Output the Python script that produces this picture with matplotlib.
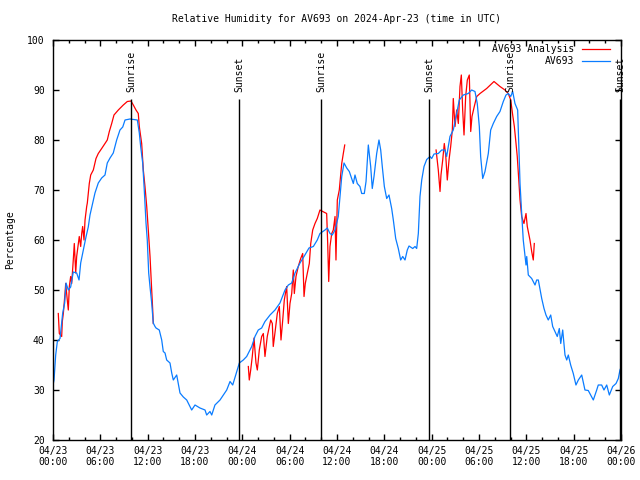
import matplotlib
matplotlib.use("Agg")
import matplotlib.pyplot as plt
from matplotlib.ticker import MultipleLocator

# hours since 2024-04-23 00:00 UTC
blue_hours = [
    0.0, 0.13, 0.34, 0.55, 0.89, 1.23, 1.48, 1.65, 1.94, 2.24,
    2.57, 3.0, 3.3, 3.51, 3.84, 4.18, 4.47, 4.69, 5.03, 5.32,
    5.74, 6.17, 6.59, 6.88, 7.23, 7.64, 8.07, 8.49, 8.84, 9.13,
    9.76, 10.69, 10.94, 11.12, 11.37, 11.57, 11.79, 11.95, 12.13, 12.3,
    12.51, 12.71, 12.93, 13.06, 13.47, 13.56, 13.78, 13.98, 14.2, 14.41,
    14.83, 15.05, 15.25, 15.68, 16.1, 16.52, 16.95, 17.58, 18.0, 18.63,
    19.27, 19.48, 19.9, 20.12, 20.53, 21.17, 21.59, 22.02, 22.44, 22.78,
    23.29, 23.62, 24.12, 24.55, 25.19, 25.6, 26.02, 26.45, 26.87, 27.51,
    28.14, 28.77, 29.41, 29.83, 30.26, 30.68, 31.31, 31.82, 32.45, 33.0,
    33.5, 33.84, 34.48, 34.77, 35.11, 35.4, 35.75, 36.16, 36.6, 36.89,
    37.23, 37.56, 37.86, 38.07, 38.28, 38.57, 38.91, 39.13, 39.46, 39.68,
    39.97, 40.09, 40.27, 40.47, 40.69, 41.03, 41.32, 41.54, 41.74, 42.0,
    42.3, 42.59, 42.93, 43.14, 43.44, 43.77, 44.07, 44.33, 44.62, 44.91,
    45.13, 45.6, 45.89, 46.1, 46.31, 46.52, 46.74, 47.03, 47.37, 47.79,
    48.0, 48.3, 48.84, 49.27, 49.69, 49.9, 50.32, 50.74, 51.17, 51.5,
    52.01, 52.64, 53.07, 53.49, 53.78, 54.04, 54.21, 54.47, 54.76, 55.18,
    55.48, 55.81, 56.24, 56.66, 57.08, 57.42, 57.71, 58.02, 58.27, 58.56,
    58.9, 59.07, 59.2, 59.41, 59.61, 59.7, 59.96, 60.05, 60.25, 60.68,
    61.1, 61.31, 61.52, 61.95, 62.24, 62.49, 62.78, 63.09, 63.34, 63.63,
    63.92, 64.18, 64.36, 64.61, 64.9, 65.12, 65.32, 65.62, 65.95, 66.29,
    66.59, 67.02, 67.43, 67.85, 68.16, 68.49, 68.92, 69.12, 69.55, 69.84,
    70.19, 70.52, 70.95, 71.37, 71.66, 71.87, 72.0]
blue_rh = [
    31, 32, 37, 39.7, 40.3, 45.4, 47.4, 51.4, 50, 50.6,
    53.6, 53.4, 52, 55.4, 58, 60.6, 62.6, 65, 67.4, 69.4,
    71.4, 72.4, 73, 75.4, 76.4, 77.4, 80, 82, 82.6, 84,
    84.2, 84, 81.4, 78.6, 75.4, 70, 63.4, 60, 53.4, 50.6,
    47.4, 43.4, 42.7, 42.4, 42, 41.4, 40, 37.7, 37.4, 36,
    35.4, 33.4, 32, 33, 29.4, 28.6, 28, 26, 27, 26.4,
    26, 25, 25.7, 25, 27, 28, 29, 30, 31.7, 31,
    33.7, 35.4, 36, 36.7, 38.7, 40.7, 42, 42.4, 43.7, 45,
    46, 47.4, 50, 51, 51.4, 53.4, 55.4, 56.7, 58.4, 58.7,
    60, 61.3, 62, 62.4, 61.3, 61, 62, 64.7, 72.7, 75.4,
    74.4, 73.7, 72.3, 71.3, 73, 71.3, 70.7, 69.3, 69.3, 71.7,
    79, 77.3, 74.7, 70.3, 72.7, 77.3, 80, 78, 74.7, 70.7,
    68.3, 69, 66.3, 64, 60.3, 58.3, 56, 56.7, 56, 58,
    58.8, 58.3, 58.7, 58.3, 61.3, 68.7, 72, 74.7, 76.1, 76.7,
    76.3, 77.2, 77.3, 78, 78, 76.7, 80.7, 82, 85.3, 88,
    89, 89.3, 90, 89.7, 87.3, 82.7, 76.7, 72.3, 73.7, 77.3,
    82, 83.3, 84.7, 85.7, 87.7, 89, 89.3, 88.7, 89.7, 87.3,
    86, 77.3, 71.3, 65.3, 60, 58.7, 55, 56.7, 53, 52.3,
    51, 52, 52, 48.3, 46.3, 45, 44, 45, 42.7, 41.7,
    40.7, 42.3, 39.3, 42, 37, 36, 37, 35, 33.3, 31,
    32, 33, 30, 29.9, 29, 28, 30, 31, 31, 30,
    31, 29, 30.7, 31.3, 32.3, 34, 34.5]

# analysis series, three separate runs
red1_hours = [0.67, 0.8, 1.1, 1.18, 1.31, 1.52, 1.61, 1.81, 1.94, 2.07,
              2.24, 2.37, 2.57, 2.7, 2.88, 3.0, 3.33, 3.51, 3.64, 3.76,
              3.93, 4.06, 4.27, 4.35, 4.6, 4.78, 5.11, 5.45, 5.74, 6.17,
              6.59, 6.88, 7.14, 7.44, 7.73, 8.28, 8.91, 9.42, 9.89, 10.18,
              10.52, 10.81, 10.94, 11.24, 11.45, 11.66, 11.88, 12.08, 12.3, 12.51,
              12.64, 12.71]
red1_rh = [45.3, 41.3, 40.7, 43.7, 45.3, 49.3, 51.3, 48, 46, 50.7,
           52.7, 51.3, 56, 59.3, 53.4, 56.7, 60.7, 58.7, 61.3, 62.7,
           60, 64, 66.7, 67.4, 71.3, 73, 74, 76.3, 77.3, 78.3,
           79.3, 80, 81.7, 83.3, 85, 86, 87, 87.7, 87.8, 87,
           86, 85.3, 82.7, 79.3, 74, 70.7, 66.7, 62, 56.7, 50,
           46, 43.3]
red2_hours = [24.76, 24.88, 25.06, 25.26, 25.48, 25.73, 25.9, 26.15, 26.45, 26.66,
              26.87, 27.16, 27.42, 27.6, 27.8, 27.92, 28.18, 28.43, 28.69, 28.9,
              29.12, 29.32, 29.54, 29.62, 29.83, 30.04, 30.26, 30.46, 30.59, 30.8,
              31.09, 31.4, 31.65, 31.82, 31.98, 32.23, 32.49, 32.67, 32.92, 33.21,
              33.5, 33.84, 34.19, 34.69, 34.82, 34.95, 35.11, 35.33, 35.53, 35.75,
              35.87, 36.04, 36.29, 36.6, 36.8, 36.98]
red2_rh = [34.7, 32, 34, 36.7, 40.4, 35.4, 34, 38, 40.7, 41.3,
           36.7, 40.7, 42.7, 44, 43.3, 38.7, 42, 45.3, 46.7, 40,
           44, 48, 50, 50.7, 43.3, 47.3, 49.3, 54, 49.3, 52.7,
           54.7, 56.3, 57.3, 48.7, 51.3, 53.3, 55.3, 59.3, 62, 63.3,
           64.3, 66, 65.7, 65.3, 59.3, 51.7, 58.7, 61.3, 62, 64.7,
           56, 68, 70, 75.3, 77.3, 79]
red3_hours = [48.56, 48.84, 49.06, 49.18, 49.4, 49.6, 49.78, 49.98, 50.2, 50.41,
              50.62, 50.74, 50.96, 51.17, 51.38, 51.59, 51.76, 51.93, 52.1, 52.31,
              52.52, 52.77, 52.95, 53.11, 53.4, 53.71, 54.13, 54.97, 55.9, 56.66,
              57.29, 57.71, 58.02, 58.27, 58.48, 58.65, 58.85, 59.03, 59.2, 59.41,
              59.7, 59.96, 60.12, 60.46, 60.68, 60.88, 61.01]
red3_rh = [78, 74, 69.7, 73, 76, 79.3, 77, 72, 76, 78.7,
           82, 88.3, 82.7, 86, 83.3, 90.7, 93, 86, 81, 88.7,
           92, 93, 81.7, 84.7, 86.7, 88.7, 89.3, 90.3, 91.7, 90.7,
           90, 89.3, 88, 85, 82.7, 80, 76.7, 72.3, 68, 64.7,
           63.3, 65.3, 62.7, 60, 57.7, 56, 59.3]

sun_hours = [9.89, 23.62, 34.01, 47.70, 57.97, 71.87]
sun_labels = ["Sunrise", "Sunset", "Sunrise", "Sunset", "Sunrise", "Sunset"]

xtick_hours = list(range(0, 73, 6))
xtick_labels = ["04/23\n00:00", "04/23\n06:00", "04/23\n12:00", "04/23\n18:00",
                "04/24\n00:00", "04/24\n06:00", "04/24\n12:00", "04/24\n18:00",
                "04/25\n00:00", "04/25\n06:00", "04/25\n12:00", "04/25\n18:00",
                "04/26\n00:00"]

plt.rcParams['font.family'] = ['DejaVu Sans Mono']
plt.rcParams['font.size'] = 7

fig = plt.figure(figsize=(6.4, 4.8), dpi=100)
ax = fig.add_axes([53 / 640, 40 / 480, 568 / 640, 400 / 480])

red = '#ff0000'
blue = '#0a7cff'
ax.plot(red1_hours, red1_rh, color=red, lw=0.9, label='AV693 Analysis')
ax.plot(red2_hours, red2_rh, color=red, lw=0.9)
ax.plot(red3_hours, red3_rh, color=red, lw=0.9)
ax.plot(blue_hours, blue_rh, color=blue, lw=0.9, label='AV693')

ax.vlines(sun_hours, 20, 88.2, color='black', lw=1.0)
for h, lab in zip(sun_hours, sun_labels):
    ax.text(h, 89.5, lab, rotation=90, ha='center', va='bottom', clip_on=False)

ax.set_xlim(0, 72)
ax.set_ylim(20, 100)
ax.set_xticks(xtick_hours)
ax.set_xticklabels(xtick_labels)
ax.xaxis.set_minor_locator(MultipleLocator(2))
ax.yaxis.set_major_locator(MultipleLocator(10))
ax.tick_params(which='both', direction='in', top=True, right=True, width=1)
ax.tick_params(which='major', length=4.5)
ax.tick_params(which='minor', length=2.5)
ax.tick_params(axis='x', pad=4)
ax.tick_params(axis='y', pad=6)
for s in ax.spines.values():
    s.set_linewidth(1.0)

ax.set_ylabel('Percentage', fontsize=7)
ax.yaxis.set_label_coords(-38 / 568, 0.5)
ax.set_title('Relative Humidity for AV693 on 2024-Apr-23 (time in UTC)', fontsize=7, pad=13)

ax.legend(loc='upper right', bbox_to_anchor=(557 / 568, 1 - 4 / 400), borderaxespad=0,
          borderpad=0, frameon=False, markerfirst=False, handlelength=2.9,
          handletextpad=0.8, labelspacing=0.25, fontsize=7)

plt.savefig('out.png', dpi=100)
plt.close()
